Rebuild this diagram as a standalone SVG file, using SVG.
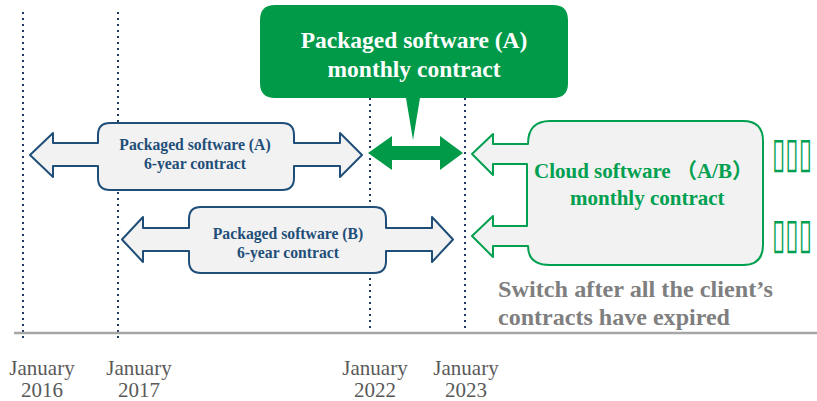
<svg xmlns="http://www.w3.org/2000/svg" width="817" height="401" viewBox="0 0 817 401">
<style>
.dot{stroke:#1f3864;stroke-width:2;stroke-dasharray:2 4;fill:none}
.blue{fill:#f2f2f2;stroke:#1f4e79;stroke-width:2;stroke-linejoin:round}
.btxt{font-family:"Liberation Serif",serif;font-weight:bold;font-size:15.7px;fill:#1f4e79;text-anchor:middle}
.date{font-family:"Liberation Serif",serif;font-size:21px;fill:#595959;text-anchor:middle}
.tofu{font-family:"DejaVu Sans",sans-serif;font-size:24px;fill:#00a050}
</style>
<rect width="817" height="401" fill="#fff"/>
<g id="axis">
<line class="dot" x1="23" y1="12" x2="23" y2="338"/>
<line class="dot" x1="118" y1="12" x2="118" y2="338"/>
<line class="dot" x1="370" y1="98" x2="370" y2="333"/>
<line class="dot" x1="465" y1="98" x2="465" y2="333"/>
<line x1="14" y1="333" x2="817" y2="333" stroke="#a6a6a6" stroke-width="2.5"/>
<text class="date" x="42" y="375">January</text><text class="date" x="42" y="397">2016</text>
<text class="date" x="139" y="375">January</text><text class="date" x="139" y="397">2017</text>
<text class="date" x="375" y="375">January</text><text class="date" x="375" y="397">2022</text>
<text class="date" x="466" y="375">January</text><text class="date" x="466" y="397">2023</text>
</g>
<g id="callout">
<path d="M275,5 L553,5 Q568,5 568,20 L568,83 Q568,98 553,98 L420,98 L413,140 L406,98 L275,98 Q260,98 260,83 L260,20 Q260,5 275,5 Z" fill="#009a49"/>
<text x="414" y="48" font-family="Liberation Serif,serif" font-weight="bold" font-size="23.5" fill="#fff" text-anchor="middle">Packaged software (A)</text>
<text x="414" y="77" font-family="Liberation Serif,serif" font-weight="bold" font-size="23.5" fill="#fff" text-anchor="middle">monthly contract</text>
</g>
<g id="connectors">
<path d="M368,153 L392,136 L392,146 L440,146 L440,136 L463,153 L440,170 L440,160 L392,160 L392,170 Z" fill="#009a49"/>
</g>
<g id="pkgA">
<path class="blue" d="M30,155 L53,133 L53,143 L98,143 L98,135 Q98,123 110,123 L282,123 Q294,123 294,135 L294,143 L340,143 L340,133 L362,155 L340,177 L340,166 L294,166 L294,178 Q294,190 282,190 L110,190 Q98,190 98,178 L98,166 L53,166 L53,177 Z"/>
<text class="btxt" x="195" y="150">Packaged software (A)</text>
<text class="btxt" x="195" y="169">6-year contract</text>
</g>
<g id="pkgB">
<path class="blue" d="M122,239.5 L143,217 L143,228 L189,228 L189,219 Q189,207 201,207 L374,207 Q386,207 386,219 L386,228 L432,228 L432,217 L453,239.5 L432,262 L432,251 L386,251 L386,261 Q386,273 374,273 L201,273 Q189,273 189,261 L189,251 L143,251 L143,262 Z"/>
<text class="btxt" x="288" y="239">Packaged software (B)</text>
<text class="btxt" x="288" y="258">6-year contract</text>
</g>
<g id="cloud">
<path d="M472,154 L493,134 L493,144 L528,144 Q528,121 550,121 L743,121 Q763,121 763,141 L763,245 Q763,265 743,265 L550,265 Q528,265 528,246 L493,246 L493,257 L472,236 L493,216 L493,226 L527,226 L527,164 L493,164 L493,175 Z" fill="#f2f2f2" stroke="#00a050" stroke-width="2" stroke-linejoin="round"/>
<text x="534" y="178" font-family="Liberation Serif,'Noto Sans CJK JP',serif" font-weight="bold" font-size="21" fill="#00a050">Cloud software （A/B）</text>
<text x="570" y="205" font-family="Liberation Serif,serif" font-weight="bold" font-size="21" fill="#00a050">monthly contract</text>
<text class="tofu" transform="translate(772,167) scale(1,1.75)" textLength="40" lengthAdjust="spacingAndGlyphs">▯▯▯</text>
<text class="tofu" transform="translate(772,248) scale(1,1.75)" textLength="40" lengthAdjust="spacingAndGlyphs">▯▯▯</text>
</g>
<g id="note">
<text x="498" y="297" font-family="Liberation Serif,serif" font-weight="bold" font-size="23" fill="#7f7f7f" textLength="275" lengthAdjust="spacingAndGlyphs">Switch after all the client’s</text>
<text x="498" y="325" font-family="Liberation Serif,serif" font-weight="bold" font-size="23" fill="#7f7f7f" textLength="232" lengthAdjust="spacingAndGlyphs">contracts have expired</text>
</g>
</svg>
